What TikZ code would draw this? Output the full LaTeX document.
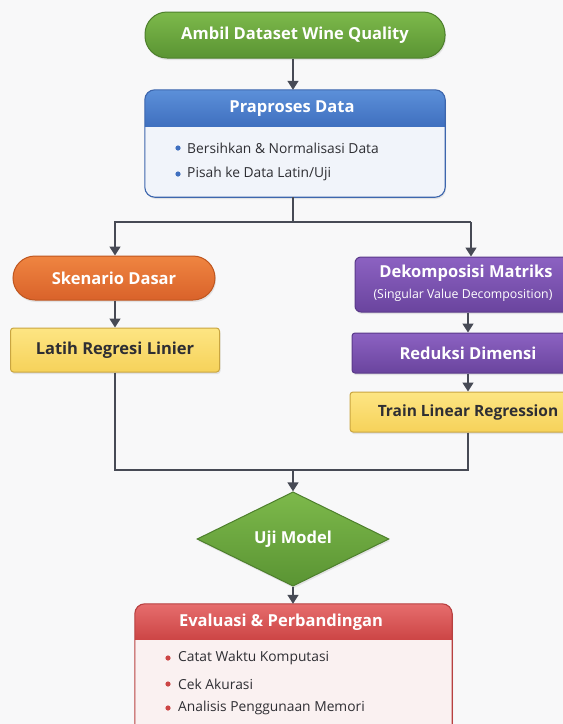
\documentclass[tikz,border=0pt]{standalone}
\usepackage{fontspec}
\setmainfont{Open Sans}
\usetikzlibrary{shapes.geometric,arrows.meta,shadows,calc}
\definecolor{bgc}{HTML}{F8F8F9}
\definecolor{arrowc}{HTML}{474A55}
\definecolor{gA}{HTML}{7DB94B}\definecolor{gB}{HTML}{5A9433}\definecolor{gR}{HTML}{4D7F2C}
\definecolor{bA}{HTML}{5C90D9}\definecolor{bB}{HTML}{3F6FBF}\definecolor{bR}{HTML}{3D66AD}\definecolor{bBody}{HTML}{F1F4FA}
\definecolor{oA}{HTML}{EF8541}\definecolor{oB}{HTML}{D9622A}\definecolor{oR}{HTML}{BF561F}
\definecolor{yA}{HTML}{FDE583}\definecolor{yB}{HTML}{F6D25A}\definecolor{yR}{HTML}{C9A540}
\definecolor{pA}{HTML}{8C62C2}\definecolor{pB}{HTML}{6A449E}\definecolor{pR}{HTML}{5A3A8A}
\definecolor{rA}{HTML}{E66D6D}\definecolor{rB}{HTML}{CC4545}\definecolor{rR}{HTML}{B84040}\definecolor{rBody}{HTML}{FAF1F1}
\definecolor{txt}{HTML}{2E2E33}
\tikzset{
  shad/.style={drop shadow={opacity=0.18,shadow xshift=1pt,shadow yshift=-2pt}},
  tfont/.style={font=\bfseries\fontsize{16.5}{19}\selectfont},
  pill/.style={shape=rectangle,rounded corners=22pt,line width=1pt,text=white,tfont,shad},
  plain/.style={shape=rectangle,rounded corners=3pt,line width=1pt,tfont,shad},
  ybox/.style={plain,top color=yA,bottom color=yB,draw=yR,text=txt},
  pbox/.style={plain,top color=pA,bottom color=pB,draw=pR,text=white},
  panel/.style={shape=rectangle,rounded corners=10pt,shad},
  title/.style={text=white,tfont},
  item/.style={anchor=west,text=txt,font=\fontsize{13.8}{16}\selectfont,inner sep=0pt},
  arr/.style={draw=arrowc,line width=1.6pt,-{Triangle[length=9pt,width=11pt]}},
  conn/.style={draw=arrowc,line width=1.6pt},
}
\begin{document}
\begin{tikzpicture}[x=1pt,y=-1pt]
\fill[bgc] (0,0) rectangle (563,724);
\clip (0,0) rectangle (563,724);
\useasboundingbox (0,0) rectangle (563,724);

% top
\node[pill,top color=gA,bottom color=gB,draw=gR,minimum width=300pt,minimum height=46pt] (ambil) at (295,35) {Ambil Dataset Wine Quality};

% Praproses panel
\node[panel,fill=bBody,minimum width=300pt,minimum height=107pt] (prap) at (295,143.5) {};
\path[top color=bA,bottom color=bB] ([yshift=-37pt]prap.north west) [rounded corners=10pt] -- (prap.north west) -- (prap.north east) [sharp corners] -- ([yshift=-37pt]prap.north east) -- cycle;
\draw[bR,line width=1.1pt,rounded corners=10pt] (prap.north west) rectangle (prap.south east);
\node[title] (prapt) at (292,109) {Praproses Data};
\node[item] (prap1) at (187,148) {Bersihkan \& Normalisasi Data};
\node[item] (prap2) at (187,174) {Pisah ke Data Latin/Uji};
\fill[bB] ([xshift=-9pt]prap1.west) circle (2.6pt);
\fill[bB] ([xshift=-9pt]prap2.west) circle (2.6pt);

% left branch
\node[pill,top color=oA,bottom color=oB,draw=oR,minimum width=202pt,minimum height=44pt] (skn) at (114,278) {Skenario Dasar};
\node[ybox,minimum width=209pt,minimum height=44pt] (latih) at (115,350) {Latih Regresi Linier};

% right branch
\node[pbox,minimum width=226pt,minimum height=55pt,rounded corners=6pt] (dek) at (468,284.5) {};
\node[title] (dekt) at (466,273) {Dekomposisi Matriks};
\node[text=white,font=\fontsize{12.3}{14}\selectfont] (deks) at (463,295) {(Singular Value Decomposition)};
\node[pbox,minimum width=232pt,minimum height=40pt] (red) at (468,353) {Reduksi Dimensi};
\node[ybox,minimum width=236pt,minimum height=40pt,font=\bfseries\fontsize{15.5}{18}\selectfont] (train) at (468,412) {Train Linear Regression};

% diamond
\node[shape=diamond,inner sep=0pt,minimum width=192pt,minimum height=80pt,top color=gA,bottom color=gB,draw=gR,line width=1pt,text=white,tfont,shad] (uji) at (293,539) {Uji Model};

% Evaluasi panel
\node[panel,fill=rBody,minimum width=317pt,minimum height=134pt] (eval) at (293.5,671) {};
\path[top color=rA,bottom color=rB] ([yshift=-36pt]eval.north west) [rounded corners=10pt] -- (eval.north west) -- (eval.north east) [sharp corners] -- ([yshift=-36pt]eval.north east) -- cycle;
\draw[rR,line width=1.1pt,rounded corners=10pt] (eval.north west) rectangle (eval.south east);
\node[title] (evalt) at (281,622) {Evaluasi \& Perbandingan};
\node[item] (ev1) at (178,658) {Catat Waktu Komputasi};
\node[item] (ev2) at (178,684) {Cek Akurasi};
\node[item] (ev3) at (178,708) {Analisis Penggunaan Memori};
\fill[rB] ([xshift=-10pt]ev1.west) circle (2.6pt);
\fill[rB] ([xshift=-10pt]ev2.west) circle (2.6pt);
\fill[rB] ([xshift=-10pt]ev3.west) circle (2.6pt);

% connectors
\coordinate (split) at (293,222);
\coordinate (rsplit) at (471,222);
\coordinate (join) at (293,470);
\draw[arr] (ambil.south -| 293,0) -- (prap.north -| 293,0);
\draw[conn] (prap.south -| 293,0) -- (split);
\draw[conn] (split) -- (rsplit);
\draw[arr] (split) -| (skn.north -| 115,0);
\draw[arr] (rsplit) -- (dek.north -| 471,0);
\draw[arr] (skn.south -| 115,0) -- (latih.north -| 115,0);
\draw[arr] (dek.south) -- (red.north);
\draw[arr] (red.south) -- (train.north);
\draw[conn] (latih.south -| 115,0) |- (join);
\draw[conn] (train.south) |- (join);
\draw[arr] (join) -- (uji.north);
\draw[arr] (uji.south) -- (eval.north -| 293,0);
\end{tikzpicture}
\end{document}
